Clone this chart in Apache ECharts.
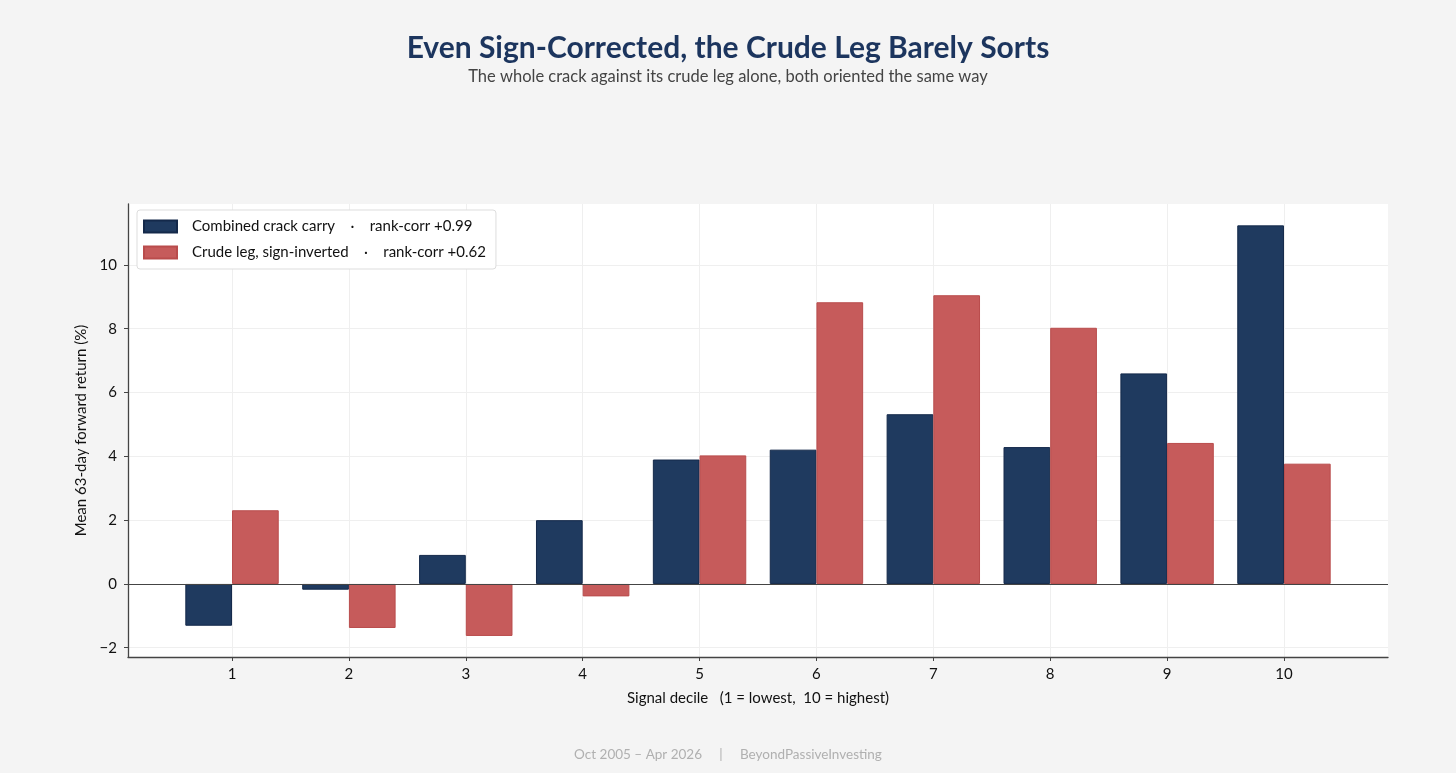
<!DOCTYPE html>
<html>
<head>
<meta charset="utf-8">
<script src="https://cdn.jsdelivr.net/npm/echarts@6/dist/echarts.min.js"></script>
<style>
  html, body { margin: 0; padding: 0; background: #f4f4f4; }
  #chart { width: 1456px; height: 773px; }
</style>
</head>
<body>
<div id="chart"></div>
<script>
const deciles = [1, 2, 3, 4, 5, 6, 7, 8, 9, 10]
const combinedCarry = [-1.31, -0.18, 0.91, 2.0, 3.9, 4.21, 5.32, 4.29, 6.6, 11.24]
const crudeInverted = [2.31, -1.38, -1.63, -0.39, 4.03, 8.83, 9.05, 8.03, 4.42, 3.77]
const yTicks = [-2, 0, 2, 4, 6, 8, 10]
const seriesNames = [
  'Combined crack carry    \u00b7    rank-corr +0.99',
  'Crude leg, sign-inverted    \u00b7    rank-corr +0.62'
]

const font = 'Lato, "Noto Sans", sans-serif'
let chart = echarts.init(document.getElementById('chart'))

chart.setOption({
  backgroundColor: '#f4f4f4',
  textStyle: { fontFamily: font },
  title: {
    text: 'Even Sign-Corrected, the Crude Leg Barely Sorts',
    subtext: 'The whole crack against its crude leg alone, both oriented the same way',
    left: 'center',
    top: 28,
    itemGap: 5,
    textStyle: { fontFamily: font, fontSize: 30, fontWeight: 'bold', color: '#1c355e' },
    subtextStyle: { fontFamily: font, fontSize: 16.5, color: '#444' }
  },
  graphic: [
    {
      type: 'text',
      left: 'center',
      top: 748,
      style: {
        text: 'Oct 2005 \u2013 Apr 2026     |     BeyondPassiveInvesting',
        font: '13.5px ' + font,
        fill: '#b0b0b0'
      }
    }
  ],
  legend: {
    orient: 'vertical',
    left: 137,
    top: 210,
    backgroundColor: '#fff',
    borderColor: '#dddddd',
    borderWidth: 1,
    borderRadius: 3,
    padding: [9, 10, 9, 6],
    itemGap: 11,
    itemWidth: 33,
    itemHeight: 12,
    icon: 'rect',
    textStyle: { fontFamily: font, fontSize: 15, color: '#111', padding: [0, 0, 0, 10] },
    data: seriesNames
  },
  grid: {
    left: 128,
    top: 204,
    right: 68,
    bottom: 116,
    show: true,
    backgroundColor: '#fff',
    borderWidth: 0
  },
  xAxis: {
    type: 'value',
    min: 0.11,
    max: 10.89,
    name: 'Signal decile   (1 = lowest,  10 = highest)',
    nameLocation: 'middle',
    nameGap: 34,
    nameTextStyle: { fontFamily: font, fontSize: 15, color: '#111' },
    axisLine: { show: true, onZero: false, lineStyle: { color: '#444', width: 1.3 } },
    axisTick: { show: true, length: 4, customValues: deciles, lineStyle: { color: '#444' } },
    axisLabel: { customValues: deciles, fontSize: 15, color: '#111', margin: 10, fontFamily: font },
    splitLine: { show: true, lineStyle: { color: '#efefef', width: 1 } }
  },
  yAxis: {
    type: 'value',
    min: -2.29,
    max: 11.91,
    name: 'Mean 63-day forward return (%)',
    nameLocation: 'middle',
    nameGap: 37,
    nameTextStyle: { fontFamily: font, fontSize: 15, color: '#111' },
    axisLine: { show: true, lineStyle: { color: '#444', width: 1.3 } },
    axisTick: { show: true, length: 4, customValues: yTicks, lineStyle: { color: '#444' } },
    axisLabel: {
      customValues: yTicks,
      fontSize: 15,
      color: '#111',
      margin: 11,
      fontFamily: font,
      formatter: v => (v < 0 ? '\u2212' + Math.abs(v) : String(v))
    },
    splitLine: { show: true, lineStyle: { color: '#efefef', width: 1 } }
  },
  series: [
    {
      name: seriesNames[0],
      type: 'bar',
      barWidth: 46.7,
      barGap: '0%',
      itemStyle: { color: '#1f3a5f', borderColor: '#14294a', borderWidth: 1 },
      data: deciles.map((d, i) => [d, combinedCarry[i]]),
      markLine: {
        silent: true,
        symbol: 'none',
        label: { show: false },
        lineStyle: { color: '#444', width: 1.2, type: 'solid' },
        data: [{ yAxis: 0 }]
      }
    },
    {
      name: seriesNames[1],
      type: 'bar',
      barWidth: 46.7,
      barGap: '0%',
      itemStyle: { color: '#c65b5b', borderColor: '#b94c4c', borderWidth: 1 },
      data: deciles.map((d, i) => [d, crudeInverted[i]])
    }
  ]
})
</script>
</body>
</html>
